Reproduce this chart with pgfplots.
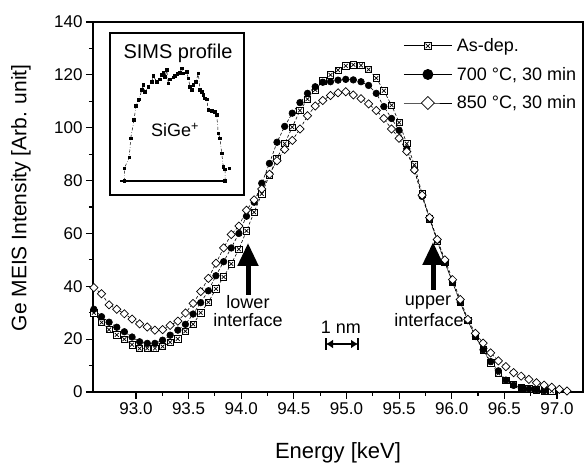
\documentclass[border=0pt]{standalone}
\usepackage{fontspec}
\setmainfont{Liberation Sans}
\usepackage{pgfplots}
\pgfplotsset{compat=1.18}
\usepackage{pgfplotstable}
\usetikzlibrary{arrows.meta}

\pgfdeclareplotmark{boxx}{%
  \pgfpathrectangle{\pgfqpoint{-\pgfplotmarksize}{-\pgfplotmarksize}}{\pgfqpoint{2\pgfplotmarksize}{2\pgfplotmarksize}}%
  \pgfusepathqfillstroke
  \pgfpathmoveto{\pgfqpoint{-0.6\pgfplotmarksize}{-0.6\pgfplotmarksize}}%
  \pgfpathlineto{\pgfqpoint{0.6\pgfplotmarksize}{0.6\pgfplotmarksize}}%
  \pgfpathmoveto{\pgfqpoint{-0.6\pgfplotmarksize}{0.6\pgfplotmarksize}}%
  \pgfpathlineto{\pgfqpoint{0.6\pgfplotmarksize}{-0.6\pgfplotmarksize}}%
  \pgfusepathqstroke}

\pgfplotstableread{
x y
92.600 30.0
92.673 26.3
92.745 23.6
92.818 21.6
92.890 20.0
92.963 17.9
93.035 16.5
93.108 16.5
93.180 16.5
93.253 17.2
93.325 18.8
93.398 20.1
93.470 23.0
93.543 25.6
93.615 30.0
93.688 34.0
93.760 39.0
93.833 43.5
93.905 48.5
93.978 54.0
94.050 61.0
94.123 68.0
94.195 75.0
94.268 82.0
94.340 88.5
94.413 94.0
94.485 100.2
94.558 106.5
94.630 110.8
94.703 114.3
94.775 117.7
94.848 120.0
94.920 121.8
94.993 123.4
95.065 123.8
95.138 123.6
95.210 122.0
95.283 118.8
95.355 114.0
95.428 108.5
95.500 102.0
95.573 94.0
95.645 86.0
95.718 75.0
95.790 65.5
95.863 57.0
95.935 49.0
96.008 41.5
96.080 34.0
96.153 27.0
96.225 21.0
96.298 16.0
96.370 11.0
96.443 7.0
96.515 4.5
96.588 2.8
96.660 1.8
96.733 1.2
96.805 0.8
96.878 0.5
96.950 0.3
}\asdep

\pgfplotstableread{
x y
92.600 31.3
92.673 28.5
92.745 26.4
92.818 24.5
92.890 22.8
92.963 20.8
93.035 19.0
93.108 18.4
93.180 18.4
93.253 19.6
93.325 21.5
93.398 23.4
93.470 25.6
93.543 29.5
93.615 33.8
93.688 38.3
93.760 44.0
93.833 49.3
93.905 54.5
93.978 60.0
94.050 66.5
94.123 71.8
94.195 79.0
94.268 86.5
94.340 94.5
94.413 100.5
94.485 105.5
94.558 109.5
94.630 113.0
94.703 115.5
94.775 117.2
94.848 117.4
94.920 118.0
94.993 118.3
95.065 118.1
95.138 117.4
95.210 116.0
95.283 113.0
95.355 108.0
95.428 103.5
95.500 99.0
95.573 92.0
95.645 84.0
95.718 74.0
95.790 65.5
95.863 57.5
95.935 49.0
96.008 41.5
96.080 34.0
96.153 27.0
96.225 21.0
96.298 16.0
96.370 11.5
96.443 8.0
96.515 4.5
96.588 2.5
96.660 1.6
96.733 1.1
96.805 0.8
96.878 0.5
}\sseven

\pgfplotstableread{
x y
92.600 39.5
92.673 37.2
92.745 33.0
92.818 31.3
92.890 29.6
92.963 27.6
93.035 25.8
93.108 24.6
93.180 23.4
93.253 23.6
93.325 25.2
93.398 26.8
93.470 29.9
93.543 33.5
93.615 38.0
93.688 43.0
93.760 48.7
93.833 54.5
93.905 59.6
93.978 62.8
94.050 68.8
94.123 72.7
94.195 76.8
94.268 82.4
94.340 87.5
94.413 91.8
94.485 95.2
94.558 99.5
94.630 104.5
94.703 108.2
94.775 110.3
94.848 112.2
94.920 113.2
94.993 113.6
95.065 112.4
95.138 111.0
95.210 109.0
95.283 106.5
95.355 103.5
95.428 99.5
95.500 96.0
95.573 91.0
95.645 84.0
95.718 74.5
95.790 66.0
95.863 57.7
95.935 50.0
96.008 42.5
96.080 35.0
96.153 27.5
96.225 22.2
96.298 18.5
96.370 14.8
96.443 11.8
96.515 9.6
96.588 7.3
96.660 6.0
96.733 4.8
96.805 3.5
96.878 2.6
96.950 1.8
97.023 1.0
97.095 0.4
}\seight

\pgfplotstableread{
x y
4.3 0
4.3 12.7
9.3 23.7
10.7 42.7
14 61
16 75
18.3 81
19.3 81.7
21.7 91
23.3 96
25 89.3
28.3 94.3
31.7 99.3
33.3 105
36.7 99.3
40 101.7
41.7 106
43.3 108.3
45 104.3
46.7 111
48.3 97.7
50 101.7
53.3 103.7
55 105
57.3 107
60 108.3
61.7 112.7
63.3 107.7
66.7 109.3
68.3 102.7
70 94.3
71.7 91
73.3 96
76 99.3
78.3 107.7
80 91
81.7 89.3
83.3 86
85 82.7
86.7 81.7
88.3 71
91.7 70.3
95 69.3
96.7 66
98.3 47.7
100 42.7
101.7 27.7
103.3 14.3
105 11.7
105 0
}\sims

\begin{document}
\begin{tikzpicture}
\path[use as bounding box] (0,0) rectangle (584pt,466pt);
\begin{axis}[
  at={(93pt,74pt)}, anchor=south west,
  scale only axis, width=490pt, height=370pt,
  xmin=92.592, xmax=97.247, ymin=0, ymax=140,
  xtick={93,93.5,...,97.01}, ytick={0,20,...,140},
  minor x tick num=1, minor y tick num=1,
  xtick pos=left, ytick pos=left, tick align=outside,
  major tick length=7pt, minor tick length=4pt,
  axis line style={line width=1.5pt},
  every tick/.style={black, line width=1.2pt},
  x tick label style={/pgf/number format/.cd, fixed, fixed zerofill, precision=1},
  /pgf/number format/assume math mode=true,
  tick label style={font=\fontsize{17}{20}\selectfont},
  xlabel={Energy [keV]},
  ylabel={Ge MEIS Intensity [Arb. unit]},
  xlabel style={font=\fontsize{22}{24}\selectfont, at={(axis description cs:0.5,-0.165)}, anchor=center},
  ylabel style={font=\fontsize{21}{24}\selectfont, at={(axis description cs:-0.147,0.525)}, anchor=center},
  clip=false,
  legend cell align=left,
  legend style={at={(axis description cs:0.627,0.965)}, anchor=north west,
    draw=none, fill=none, font=\fontsize{18}{20}\selectfont,
    row sep=11pt, nodes={inner sep=1.5pt},
    /tikz/every odd column/.append style={column sep=3pt}},
  legend image code/.code={\draw[#1, solid, line width=0.9pt, mark repeat=2, mark phase=2]
    plot coordinates {(0pt,0pt) (24pt,0pt) (48pt,0pt)};},
]
\addplot[black, densely dashed, line width=0.6pt, mark=boxx, mark size=3.2pt,
  mark options={solid, fill=white, line width=0.7pt},
  legend image post style={mark size=3.8pt}] table[x=x,y=y] {\asdep};
\addlegendentry{As-dep.}
\addplot[black, densely dashed, line width=0.6pt, mark=*, mark size=3.3pt,
  mark options={solid, fill=black},
  legend image post style={mark size=5pt}] table[x=x,y=y] {\sseven};
\addlegendentry{700 °C, 30 min}
\addplot[black, densely dashed, line width=0.6pt, mark=square*, mark size=2.9pt,
  mark options={solid, fill=white, rotate=45, line width=0.7pt},
  legend image post style={mark size=4.6pt}] table[x=x,y=y] {\seight};
\addlegendentry{850 °C, 30 min}
\end{axis}

% inset
\draw[line width=2.5pt] (110pt,271pt) rectangle (244pt,433pt);
\node[font=\fontsize{20}{22}\selectfont] at (178pt,413pt) {SIMS profile};
\node[font=\fontsize{18}{20}\selectfont] at (175pt,336pt) {SiGe\textsuperscript{+}};
\begin{axis}[
  at={(120pt,285pt)}, anchor=south west,
  x=1pt, y=1pt, xmin=0, xmax=110, ymin=0, ymax=115,
  hide axis, clip=false,
]
\addplot[black, dash dot, line width=0.5pt, mark=square*, mark size=1.3pt,
  mark options={solid, fill=black}] table[x=x,y=y] {\sims};
\addplot[black, only marks, mark=square*, mark size=1pt] coordinates {(109.3,12.7)};
\draw[line width=2pt] (axis cs:0,0) -- (axis cs:103,0);
\end{axis}

% annotations
\draw[line width=5pt, -{Triangle[width=20pt,length=23pt]}] (248pt,171pt) -- (248pt,223pt);
\node[font=\fontsize{18}{20}\selectfont] at (248pt,164pt) {lower};
\node[font=\fontsize{18}{20}\selectfont] at (248pt,146pt) {interface};
\draw[line width=5pt, -{Triangle[width=20pt,length=23pt]}] (433pt,176pt) -- (433pt,224pt);
\node[font=\fontsize{18}{20}\selectfont] at (428pt,163pt) {upper};
\node[font=\fontsize{18}{20}\selectfont] at (429pt,146pt) {interface};
\node[font=\fontsize{18}{20}\selectfont] at (341pt,139pt) {1 nm};
\draw[line width=2.5pt, {Latex[length=7pt,width=9pt]}-{Latex[length=7pt,width=9pt]}] (326pt,122pt) -- (358pt,122pt);
\draw[line width=2.5pt] (326pt,116pt) -- (326pt,128pt);
\draw[line width=2.5pt] (358pt,116pt) -- (358pt,128pt);
\end{tikzpicture}
\end{document}
